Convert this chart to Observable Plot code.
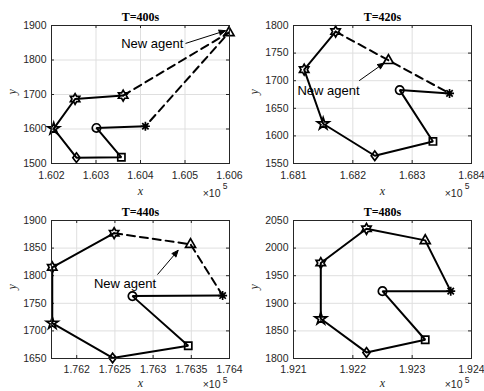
<!DOCTYPE html>
<html><head><meta charset="utf-8">
<script src="https://cdn.jsdelivr.net/npm/d3@7"></script>
<script src="https://cdn.jsdelivr.net/npm/@observablehq/plot@0.6"></script>
<style>
body{margin:0;background:#fff;}
#wrap{position:relative;width:484px;height:391px;overflow:hidden;}
#wrap svg{position:absolute;overflow:visible;}
</style></head><body><div id="wrap"></div>
<script>
// agent order: circle, square, diamond, pentagram, hexagramA, hexagramB, triangle (new agent), asterisk
const agents = ["circle","square","diamond","pentagram","hexagram","hexagram","triangle","asterisk"];
const titles = ["T=400s","T=420s","T=440s","T=480s"];

// x values are in units of 10^5
const x400 = [1.60301,1.60357,1.60256,1.60205,1.60253,1.60361,1.60599,1.60411];
const y400 = [1603,1518,1517,1601,1687,1697,1880,1608];
const x420 = [1.68279,1.68335,1.68237,1.68150,1.68118,1.68171,1.68260,1.68363];
const y420 = [1683,1590,1564,1622,1720,1789,1737,1677];
const x440 = [1.76273,1.76346,1.76247,1.76168,1.76168,1.76249,1.76349,1.76391];
const y440 = [1763,1673,1651,1714,1815,1877,1857,1764];
const x480 = [1.92250,1.92322,1.92223,1.92146,1.92146,1.92223,1.92322,1.92365];
const y480 = [1922,1834,1811,1872,1973,2035,2014,1922];

const xDomains = [[1.602,1.606],[1.681,1.684],[1.76167,1.764],[1.921,1.924]];
const yDomains = [[1500,1900],[1550,1800],[1650,1900],[1800,2050]];
const xTicks = [[1.602,1.603,1.604,1.605,1.606],[1.681,1.682,1.683,1.684],[1.762,1.7625,1.763,1.7635,1.764],[1.921,1.922,1.923,1.924]];
const yTicks = [[1500,1600,1700,1800,1900],[1550,1600,1650,1700,1750,1800],[1650,1700,1750,1800,1850,1900],[1800,1850,1900,1950,2000,2050]];

// "New agent" annotation: label position, arrow start, arrow end (data units)
const labelX = [1.603566,1.681067,1.762225,null];
const labelY = [1848,1682,1785,null];
const arrowX1 = [1.605011,1.682107,1.763057,null];
const arrowY1 = [1848,1700,1802,null];
const arrowX2 = [1.605910,1.682528,1.763328,null];
const arrowY2 = [1885,1732,1846,null];
const dashedLinks = [true,true,true,false];

function star(n, R, ratio) {
  return {draw(c) {
    for (let k = 0; k < 2*n; k++) {
      const a = -Math.PI/2 + k*Math.PI/n;
      const r = k % 2 ? R*ratio : R;
      const px = r*Math.cos(a), py = r*Math.sin(a);
      if (k === 0) c.moveTo(px, py); else c.lineTo(px, py);
    }
    c.closePath();
  }};
}
const symbols = {
  circle: {draw(c){ c.moveTo(4.2,0); c.arc(0,0,4.2,0,2*Math.PI); }},
  square: {draw(c){ c.rect(-3.6,-3.6,7.2,7.2); }},
  diamond: {draw(c){ c.moveTo(0,-4.8); c.lineTo(3.6,0); c.lineTo(0,4.8); c.lineTo(-3.6,0); c.closePath(); }},
  pentagram: star(5, 6.2, 0.382),
  hexagram: star(6, 5.4, 0.577),
  triangle: {draw(c){ c.moveTo(0,-5.6); c.lineTo(5,3.2); c.lineTo(-5,3.2); c.closePath(); }},
  asterisk: {draw(c){
    const r = 4.5, d = r*0.7071;
    c.moveTo(-r,0); c.lineTo(r,0); c.moveTo(0,-r); c.lineTo(0,r);
    c.moveTo(-d,-d); c.lineTo(d,d); c.moveTo(-d,d); c.lineTo(d,-d);
  }}
};

const allX = [x400,x420,x440,x480];
const allY = [y400,y420,y440,y480];
const fmtX = d => String(+d.toFixed(4));
const AX = "#262626";

function panel(i, left, top, height, marginBottom, lab) {
  const rows = agents.map((a, j) => ({agent: a, x: allX[i][j], y: allY[i][j]}));
  const solidOrder = dashedLinks[i] ? [7,0,1,2,3,4,5] : [7,0,1,2,3,4,5,6,7];
  const dashOrder = [5,6,7];
  const innerH = height - 25 - marginBottom;
  const innerW = 178;
  const marks = [
    Plot.gridX(xTicks[i], {stroke: "#dfdfdf", strokeOpacity: 1}),
    Plot.gridY(yTicks[i], {stroke: "#dfdfdf", strokeOpacity: 1}),
    Plot.axisX(xTicks[i], {tickSize: 0, tickPadding: lab[3], tickFormat: fmtX, label: null, fontSize: 10.5, fill: AX}),
    Plot.axisY(yTicks[i], {tickSize: 0, tickPadding: 5, tickFormat: d => String(d), label: null, fontSize: 10.5, fill: AX}),
    Plot.tickX(xTicks[i], {x: d => d, insetTop: innerH - 3, stroke: AX}),
    Plot.tickX(xTicks[i], {x: d => d, insetBottom: innerH - 3, stroke: AX}),
    Plot.tickY(yTicks[i], {y: d => d, insetRight: innerW - 3, stroke: AX}),
    Plot.tickY(yTicks[i], {y: d => d, insetLeft: innerW - 3, stroke: AX}),
    Plot.line(solidOrder.map(k => rows[k]), {x: "x", y: "y", stroke: "#000", strokeWidth: 2, strokeLinejoin: "miter"}),
  ];
  if (dashedLinks[i]) {
    marks.push(Plot.line(dashOrder.map(k => rows[k]), {x: "x", y: "y", stroke: "#000", strokeWidth: 2, strokeDasharray: "8,5"}));
  }
  rows.forEach(r => marks.push(Plot.dot([r], {x: "x", y: "y", symbol: symbols[r.agent], r: 5, stroke: "#000", strokeWidth: 1.7, fill: "none"})));
  if (labelX[i] != null) {
    marks.push(Plot.text(["New agent"], {x: () => labelX[i], y: () => labelY[i], text: d => d, textAnchor: "start", lineAnchor: "middle", fontSize: 13, fill: "#000"}));
    marks.push(Plot.arrow([0], {x1: () => arrowX1[i], y1: () => arrowY1[i], x2: () => arrowX2[i], y2: () => arrowY2[i], stroke: "#000", fill: "#000", strokeWidth: 1, headLength: 11, headAngle: 45, strokeLinecap: "butt", strokeMiterlimit: 4}));
  }
  marks.push(Plot.frame({stroke: AX, strokeWidth: 1}));
  marks.push(Plot.text([titles[i]], {frameAnchor: "top", lineAnchor: "middle", dy: -8, text: d => d, fontFamily: "Liberation Serif, Times New Roman, serif", fontWeight: "bold", fontSize: 12, fill: "#000"}));
  marks.push(Plot.text(["x"], {frameAnchor: "bottom", lineAnchor: "middle", dy: lab[0], text: d => d, fontFamily: "Liberation Serif, Times New Roman, serif", fontStyle: "italic", fontSize: 12, fill: AX}));
  marks.push(Plot.text(["y"], {frameAnchor: "left", lineAnchor: "middle", dx: -39, rotate: -90, text: d => d, fontFamily: "Liberation Serif, Times New Roman, serif", fontStyle: "italic", fontSize: 12, fill: AX}));
  marks.push(Plot.text(["\u00d710"], {frameAnchor: "bottom-right", textAnchor: "end", lineAnchor: "middle", dx: -9, dy: lab[1], text: d => d, fontSize: 10.5, fill: AX}));
  marks.push(Plot.text(["5"], {frameAnchor: "bottom-right", textAnchor: "end", lineAnchor: "middle", dx: -2, dy: lab[2], text: d => d, fontSize: 8.5, fill: AX}));

  const svg = Plot.plot({
    width: 242, height,
    marginLeft: 51, marginRight: 13, marginTop: 25, marginBottom,
    x: {domain: xDomains[i]},
    y: {domain: yDomains[i]},
    style: {fontFamily: "Liberation Sans, Arial, sans-serif", background: "transparent", color: AX},
    marks
  });
  svg.style.left = left + "px";
  svg.style.top = top + "px";
  document.getElementById("wrap").appendChild(svg);
}
panel(0, 0, 0, 195, 32, [28, 30, 23, 8]);
panel(1, 242, 0, 195, 32, [28, 30, 23, 8]);
panel(2, 0, 195, 196, 33, [25, 26.5, 22, 7]);
panel(3, 242, 195, 196, 33, [25, 26.5, 22, 7]);
</script></body></html>
